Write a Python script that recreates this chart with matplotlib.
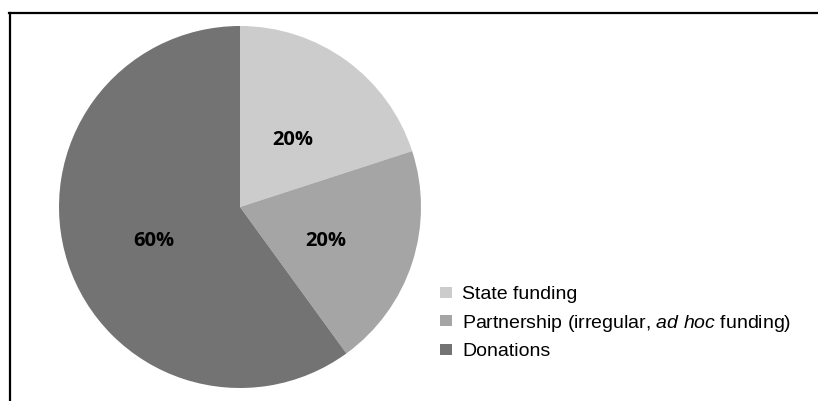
import matplotlib
matplotlib.use("Agg")
import matplotlib.pyplot as plt
import matplotlib.transforms as mtransforms
from matplotlib.patches import Patch
from matplotlib.lines import Line2D

plt.rcParams["mathtext.fontset"] = "custom"
plt.rcParams["mathtext.rm"] = "Liberation Sans"
plt.rcParams["mathtext.it"] = "Liberation Sans:italic"

# funding sources and their shares (%)
sources = ["State funding",
           r"Partnership (irregular, $\mathit{ad\ hoc}$ funding)",
           "Donations"]
shares = [20, 20, 60]
colors = ["#cccccc", "#a5a5a5", "#737373"]

W, H = 818, 401
fig = plt.figure(figsize=(W / 100, H / 100), dpi=100)

# pie sits in a square box, pixel layout
cx, cy, r = 240, 207, 181
ax = fig.add_axes([(cx - r) / W, (H - cy - r) / H, 2 * r / W, 2 * r / H])
wedges, texts, autotexts = ax.pie(
    shares, colors=colors, startangle=90, counterclock=False,
    autopct="%d%%", pctdistance=0.5, radius=1,
    textprops=dict(family="Open Sans", fontweight="bold", fontsize=14.5, color="black"),
)
# nudge the percentage labels down a little
shift = mtransforms.offset_copy(ax.transData, fig=fig, y=-6, units="dots")
for t in autotexts:
    t.set_transform(shift)
ax.set_xlim(-1, 1)
ax.set_ylim(-1, 1)
ax.set_aspect("equal")
ax.axis("off")

handles = [Patch(facecolor=c, edgecolor="none") for c in colors]
fig.legend(handles, sources, loc="upper left",
           bbox_to_anchor=(440 / W, 1 - 286 / H), frameon=False,
           prop=dict(family="Liberation Sans", size=14),
           handlelength=0.6, handleheight=0.5, handletextpad=0.55,
           labelspacing=0.5, borderpad=0, borderaxespad=0)

# frame lines along top and left
fig.add_artist(Line2D([9 / W, 1], [1 - 13 / H, 1 - 13 / H], color="black", lw=1.6,
                      transform=fig.transFigure))
fig.add_artist(Line2D([10 / W, 10 / W], [0, 1 - 13 / H], color="black", lw=1.6,
                      transform=fig.transFigure))

fig.savefig("out.png", dpi=100, facecolor="white")
